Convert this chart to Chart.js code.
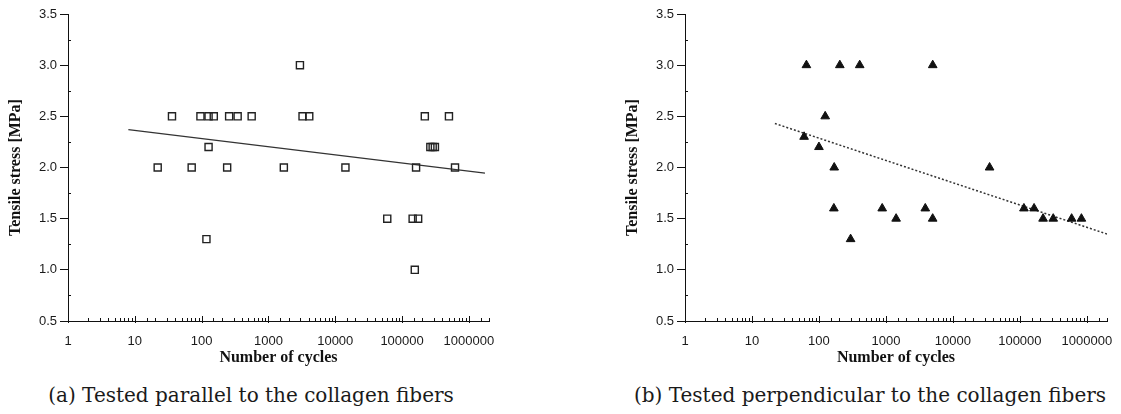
<!DOCTYPE html>
<html>
<head>
<meta charset="utf-8">
<script src="https://cdn.jsdelivr.net/npm/chart.js@4"></script>
<style>
  body { margin: 0; background: #fff; }
  #wrap { position: relative; width: 1121px; height: 414px; }
  .panel { position: absolute; top: 0; height: 370px; }
  .caption {
    position: absolute; top: 383px; font-family: "DejaVu Serif", serif;
    font-size: 20px; color: #1a1a1a; white-space: nowrap; transform: translateX(-50%);
  }
</style>
</head>
<body>
<div id="wrap">
  <div class="panel" style="left:0;width:560px"><canvas id="parallelChart"></canvas></div>
  <div class="panel" style="left:560px;width:561px"><canvas id="perpChart"></canvas></div>
  <div class="caption" style="left:251px">(a) Tested parallel to the collagen fibers</div>
  <div class="caption" style="left:870px">(b) Tested perpendicular to the collagen fibers</div>
</div>
<script>
// Parallel to fibers (open squares)
const parallelCycles = [22, 36, 71, 96, 127, 152, 127, 118, 241, 258, 346, 561, 1700, 2960, 3240, 4080, 14200, 60000, 144000, 174000, 155000, 162000, 219000, 503000, 265000, 287000, 310000, 620000];
const parallelStress = [2.0, 2.5, 2.0, 2.5, 2.5, 2.5, 2.2, 1.3, 2.0, 2.5, 2.5, 2.5, 2.0, 3.0, 2.5, 2.5, 2.0, 1.5, 1.5, 1.5, 1.0, 2.0, 2.5, 2.5, 2.2, 2.2, 2.2, 2.0];
const parallelFitCycles = [8, 1740000];
const parallelFitStress = [2.37, 1.945];

// Perpendicular to fibers (filled triangles)
const perpCycles = [60, 65, 100, 124, 169, 167, 205, 297, 406, 880, 1420, 3870, 4990, 5000, 35300, 115000, 163000, 222000, 315000, 593000, 830000];
const perpStress = [2.3, 3.0, 2.2, 2.5, 2.0, 1.6, 3.0, 1.3, 3.0, 1.6, 1.5, 1.6, 1.5, 3.0, 2.0, 1.6, 1.6, 1.5, 1.5, 1.5, 1.5];
const perpFitCycles = [22, 2000000];
const perpFitStress = [2.43, 1.35];

const cycleRange = [1, 2000000];
const stressRange = [0.5, 3.5];

const toPoints = (xs, ys) => xs.map((x, i) => ({ x: x, y: ys[i] }));
const isDecade = v => {
    const e = Math.round(Math.log10(v));
    return Math.abs(v - Math.pow(10, e)) < 1e-6 * v;
};

// inward minor ticks like the original Origin plots
const innerTicks = {
    id: 'innerTicks',
    afterDraw(chart) {
        const { ctx, chartArea, scales } = chart;
        ctx.save();
        ctx.strokeStyle = '#111';
        ctx.lineWidth = 1;
        ctx.beginPath();
        scales.x.ticks.forEach(t => {
            const px = Math.round(scales.x.getPixelForValue(t.value)) + 0.5;
            const major = isDecade(t.value);
            ctx.moveTo(px, chartArea.bottom + (major ? 2 : 0));
            ctx.lineTo(px, chartArea.bottom - (major ? 5 : 3));
        });
        for (let v = stressRange[0] + 0.25; v < stressRange[1]; v += 0.5) {
            const py = Math.round(scales.y.getPixelForValue(v)) + 0.5;
            ctx.moveTo(chartArea.left, py);
            ctx.lineTo(chartArea.left + 3, py);
        }
        ctx.stroke();
        ctx.restore();
    }
};

function makeChart(id, points, fit, pointOpts, fitOpts, padLeft, padRight) {
    const ctx = document.getElementById(id).getContext('2d');
    return new Chart(ctx, {
        type: 'scatter',
        data: {
            datasets: [
                Object.assign({ data: points, order: 1 }, pointOpts),
                Object.assign({
                    type: 'line', data: fit, showLine: true, pointRadius: 0,
                    fill: false, order: 2
                }, fitOpts)
            ]
        },
        options: {
            responsive: true,
            maintainAspectRatio: false,
            animation: false,
            layout: { padding: { left: padLeft, right: padRight, top: 14, bottom: 0 } },
            plugins: {
                legend: { display: false },
                tooltip: { enabled: false }
            },
            scales: {
                x: {
                    type: 'logarithmic',
                    min: cycleRange[0],
                    max: cycleRange[1],
                    afterFit: s => { s.height = 49; },
                    grid: { display: false },
                    border: { display: true, color: '#111', width: 1 },
                    ticks: {
                        autoSkip: false, maxRotation: 0, padding: 5,
                        color: '#1a1a1a',
                        font: { family: 'Liberation Sans', size: 13 },
                        callback: v => isDecade(v) ? String(Math.round(v)) : ''
                    },
                    title: {
                        display: true, text: 'Number of cycles', color: '#111',
                        padding: { top: 2, bottom: 3 },
                        font: { family: 'Liberation Serif', size: 16, weight: 'bold' }
                    }
                },
                y: {
                    min: stressRange[0],
                    max: stressRange[1],
                    afterFit: s => { s.width = 68; },
                    grid: { drawOnChartArea: false, drawTicks: true, tickLength: 8, color: '#111' },
                    border: { display: true, color: '#111', width: 1 },
                    ticks: {
                        stepSize: 0.5, padding: 3, color: '#1a1a1a',
                        font: { family: 'Liberation Sans', size: 13 },
                        callback: v => v.toFixed(1)
                    },
                    title: {
                        display: true, text: 'Tensile stress [MPa]', color: '#111',
                        padding: { top: 6, bottom: 0 },
                        font: { family: 'Liberation Serif', size: 16, weight: 'bold' }
                    }
                }
            }
        },
        plugins: [innerTicks]
    });
}

makeChart('parallelChart',
    toPoints(parallelCycles, parallelStress),
    toPoints(parallelFitCycles, parallelFitStress),
    { pointStyle: 'rect', pointRadius: 5, backgroundColor: 'rgba(0,0,0,0)', borderColor: '#222', borderWidth: 1.4 },
    { borderColor: '#333', borderWidth: 1.2 },
    0, 71);

makeChart('perpChart',
    toPoints(perpCycles, perpStress),
    toPoints(perpFitCycles, perpFitStress),
    { pointStyle: 'triangle', pointRadius: 5, backgroundColor: '#111', borderColor: '#111', borderWidth: 1 },
    { borderColor: '#333', borderWidth: 1.5, borderDash: [2, 2] },
    57, 14);
</script>
</body>
</html>
